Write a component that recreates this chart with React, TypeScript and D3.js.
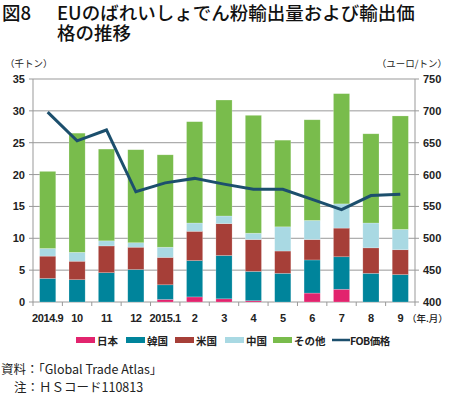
import React from "react";
import * as d3 from "d3";

// 年.月
const months = ["2014.9", "10", "11", "12", "2015.1", "2", "3", "4", "5", "6", "7", "8", "9"];
// 千トン
const japan = [0, 0, 0, 0, 0.4, 0.8, 0.5, 0.2, 0, 1.4, 2.0, 0, 0];
const korea = [3.7, 3.5, 4.6, 5.1, 2.3, 5.7, 6.8, 4.6, 4.5, 5.2, 5.1, 4.5, 4.3];
const usa = [3.5, 2.9, 4.2, 3.5, 4.3, 4.6, 5.0, 5.0, 3.5, 3.2, 4.5, 4.0, 3.9];
const china = [1.2, 1.4, 0.8, 0.7, 1.6, 1.3, 1.2, 1.0, 3.8, 3.0, 3.8, 3.9, 3.2];
const others = [12.1, 18.7, 14.4, 14.6, 14.5, 15.9, 18.2, 18.5, 13.6, 15.8, 17.3, 14.0, 17.8];
// ユーロ/トン
const fob = [698, 653, 670, 573, 587, 594, 585, 577, 577, 561, 545, 567, 569];

const leftTicks = [0, 5, 10, 15, 20, 25, 30, 35];
const rightTicks = [400, 450, 500, 550, 600, 650, 700, 750];

const seriesNames = ["日本", "韓国", "米国", "中国", "その他"];
const colors = ["#E2246E", "#00849B", "#A63F38", "#A9D9E3", "#79BC4C"];
const lineColor = "#1C4F6D";

const jp = '"Noto Sans CJK JP", sans-serif';
const num = '"Liberation Sans", Arial, sans-serif';

export default function App() {
  const left = 33, right = 415, top = 79, bottom = 302;

  const x = d3.scaleBand().domain(months).range([left, right]).paddingInner(0.45).paddingOuter(0.225);
  const yL = d3.scaleLinear().domain([0, 35]).range([bottom, top]);
  const yR = d3.scaleLinear().domain([400, 750]).range([bottom, top]);

  const rows = months.map((m, i) => ({
    m,
    s0: japan[i],
    s1: korea[i],
    s2: usa[i],
    s3: china[i],
    s4: others[i],
  }));
  const stacked = d3.stack<any>().keys(["s0", "s1", "s2", "s3", "s4"])(rows);

  const line = d3
    .line<number>()
    .x((_, i) => (x(months[i]) as number) + x.bandwidth() / 2)
    .y((d) => yR(d));

  const step = x.step();
  const boundaries = d3.range(months.length + 1).map((i) => left + i * step);

  const legendX = [76, 126, 175, 225, 273];

  return (
    <svg
      width={450}
      height={395}
      style={{ position: "absolute", left: 0, top: 0, background: "#fff" }}
    >
      {/* title */}
      <text x={2} y={19.5} fontFamily={jp} fontSize={18.5} fontWeight={500} fill="#111">
        図8
      </text>
      <text x={57} y={19.5} fontFamily={jp} fontSize={18.5} fontWeight={500} fill="#111">
        EUのばれいしょでん粉輸出量および輸出価
      </text>
      <text x={57} y={40} fontFamily={jp} fontSize={18.5} fontWeight={500} fill="#111">
        格の推移
      </text>

      {/* axis titles */}
      <text x={5} y={67} fontFamily={jp} fontSize={9.5} fill="#222">
        （千トン）
      </text>
      <text x={447} y={67} textAnchor="end" fontFamily={jp} fontSize={9.5} fill="#222">
        （ユーロ/トン）
      </text>

      {/* gridlines */}
      {leftTicks.map((t) => (
        <line key={t} x1={left - 4} x2={right + 4} y1={yL(t)} y2={yL(t)} stroke="#999" strokeWidth={1} />
      ))}
      <line x1={left} x2={left} y1={top} y2={bottom} stroke="#999" />
      <line x1={right} x2={right} y1={top} y2={bottom} stroke="#999" />
      {boundaries.map((b, i) => (
        <line key={i} x1={b} x2={b} y1={bottom} y2={bottom + 4} stroke="#999" />
      ))}

      {/* tick labels */}
      {leftTicks.map((t) => (
        <text key={t} x={25} y={yL(t) + 4} textAnchor="end" fontFamily={num} fontWeight="bold" fontSize={11} fill="#222">
          {t}
        </text>
      ))}
      {rightTicks.map((t) => (
        <text key={t} x={423} y={yR(t) + 4} fontFamily={num} fontWeight="bold" fontSize={11} fill="#222">
          {t}
        </text>
      ))}
      {months.map((m) => (
        <text
          key={m}
          x={(x(m) as number) + x.bandwidth() / 2}
          y={322}
          textAnchor="middle"
          fontFamily={num}
          fontWeight="bold"
          fontSize={11}
          letterSpacing={-0.4}
          fill="#222"
        >
          {m}
        </text>
      ))}
      <text x={407} y={322} fontFamily={jp} fontSize={9.5} fontWeight={500} fill="#222">
        （年.月）
      </text>

      {/* bars */}
      {stacked.map((s, si) => (
        <g key={si} fill={colors[si]}>
          {s.map((d, i) =>
            d[1] - d[0] > 0 ? (
              <rect
                key={i}
                x={x(months[i])}
                width={x.bandwidth()}
                y={yL(d[1])}
                height={yL(d[0]) - yL(d[1])}
                stroke="rgba(255,255,255,0.35)"
                strokeWidth={0.6}
              />
            ) : null
          )}
        </g>
      ))}

      {/* FOB line */}
      <path d={line(fob) || ""} fill="none" stroke={lineColor} strokeWidth={3} strokeLinejoin="miter" />

      {/* legend */}
      {seriesNames.map((name, i) => (
        <g key={name}>
          <rect x={legendX[i]} y={337} width={19} height={6} fill={colors[i]} />
          <text x={legendX[i] + 21} y={344.5} fontFamily={jp} fontWeight="bold" fontSize={10.5} fill="#222">
            {name}
          </text>
        </g>
      ))}
      <line x1={332} x2={350} y1={340} y2={340} stroke={lineColor} strokeWidth={2.5} />
      <text x={350} y={344.5} fontFamily={jp} fontWeight="bold" fontSize={10.5} letterSpacing={-0.5} fill="#222">
        FOB価格
      </text>

      {/* notes */}
      <text x={1} y={374} fontFamily={jp} fontSize={12.5} fill="#222">
        資料：「Global Trade Atlas」
      </text>
      <text x={14} y={391.5} fontFamily={jp} fontSize={12.5} fill="#222">
        注：ＨＳコード110813
      </text>
    </svg>
  );
}
